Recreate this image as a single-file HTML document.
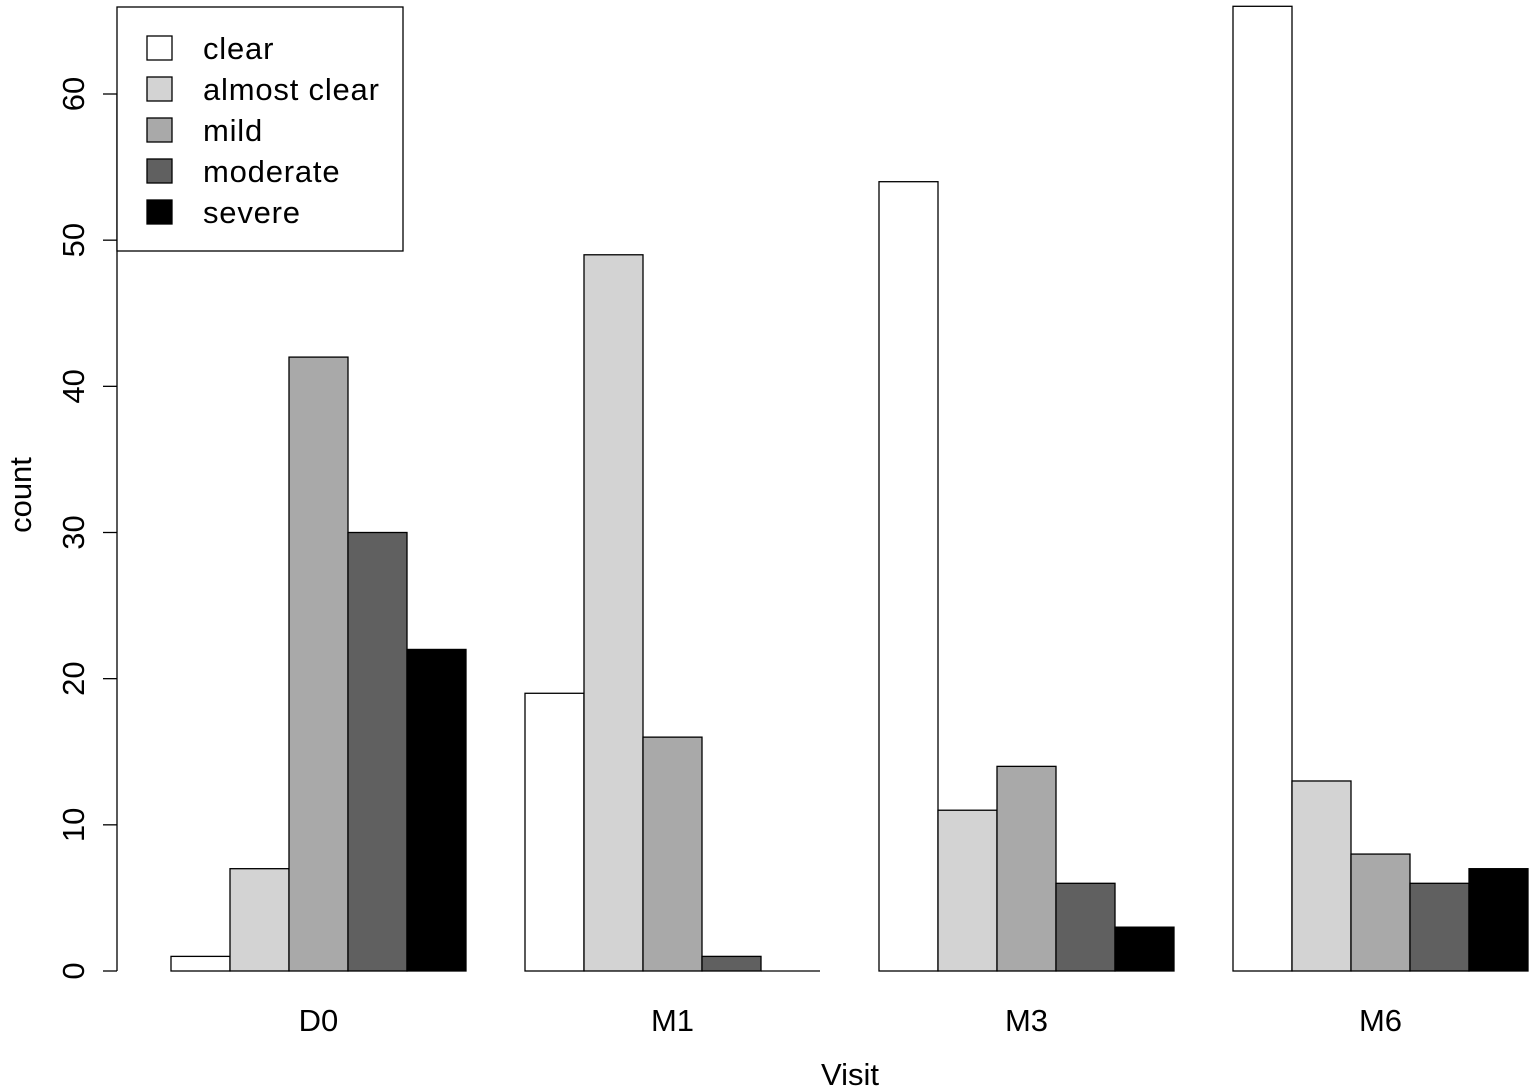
<!DOCTYPE html>
<html><head><meta charset="utf-8"><style>
html,body{margin:0;padding:0;background:#fff;}
svg{display:block;font-family:"Liberation Sans",Arial,sans-serif;}
</style></head><body>
<svg id="chart" width="1535" height="1092" viewBox="0 0 1535 1092">
<g id="axes"></g>
<g id="bars"></g>
<g id="legend"></g>
</svg>
<script>
const categories = ["D0","M1","M3","M6"];
const seriesNames = ["clear","almost clear","mild","moderate","severe"];
const seriesColors = ["#ffffff","#d3d3d3","#a9a9a9","#606060","#000000"];
const clearVals = [1,19,54,66];
const almostClearVals = [7,49,11,13];
const mildVals = [42,16,14,8];
const moderateVals = [30,1,6,6];
const severeVals = [22,0,3,7];
const yTicks = [0,10,20,30,40,50,60];

const series = [clearVals,almostClearVals,mildVals,moderateVals,severeVals];
const NS = "http://www.w3.org/2000/svg";
const y0 = 971, yUnit = (971-94)/60;
const yScale = v => y0 - v*yUnit;
const barW = 59, groupStart = 171, groupStep = 354;
const xBar = (g,s) => groupStart + g*groupStep + s*barW;
function mk(tag, attrs, parent){const e=document.createElementNS(NS,tag);for(const k in attrs)e.setAttribute(k,attrs[k]);parent.appendChild(e);return e;}

const bars = document.getElementById('bars');
categories.forEach((c,g)=>{
  series.forEach((vals,s)=>{
    const v = vals[g];
    let r;
    if (v === 0) {
      r = mk('line',{x1:xBar(g,s),x2:xBar(g,s)+barW,y1:y0,y2:y0,stroke:'#000','stroke-width':1.3},bars);
    } else {
      r = mk('rect',{x:xBar(g,s),y:yScale(v),width:barW,height:v*yUnit,fill:seriesColors[s],stroke:'#000','stroke-width':1.3},bars);
    }
    
    
  });
});

const axes = document.getElementById('axes');
const yl = mk('line',{x1:117,x2:117,y1:yScale(0),y2:yScale(60),stroke:'#000','stroke-width':1.3},axes);


yTicks.forEach(t=>{
  const y=yScale(t);
  const tk = mk('line',{x1:103,x2:117,y1:y,y2:y,stroke:'#000','stroke-width':1.3},axes);
  
  
  const tx = mk('text',{x:84,y:y,'font-size':31,'text-anchor':'middle',transform:`rotate(-90 84 ${y})`},axes);
  tx.textContent = t;
  
  
});
categories.forEach((c,g)=>{
  const cx = groupStart + g*groupStep + barW*2.5;
  const tx = mk('text',{x:cx,y:1031,'font-size':31,'text-anchor':'middle'},axes);
  tx.textContent = c;
  
  
});
const yt = mk('text',{x:31,y:495,'font-size':31,'text-anchor':'middle',transform:'rotate(-90 31 495)'},axes);
yt.textContent='count';


const xt = mk('text',{x:850,y:1085,'font-size':31,'text-anchor':'middle'},axes);
xt.textContent='Visit';



const lg = document.getElementById('legend');
const box = mk('rect',{x:117,y:7,width:286,height:244,fill:'#fff',stroke:'#000','stroke-width':1.3},lg);


seriesNames.forEach((n,i)=>{
  const cy = 48 + i*41;
  const sw = mk('rect',{x:147,y:cy-12,width:25,height:24,fill:seriesColors[i],stroke:'#000','stroke-width':1.3},lg);
  
  
  const tx = mk('text',{x:203,y:cy+11,'font-size':31,'letter-spacing':'0.8'},lg);
  tx.textContent = n;
  
  
});
</script>
</body></html>
